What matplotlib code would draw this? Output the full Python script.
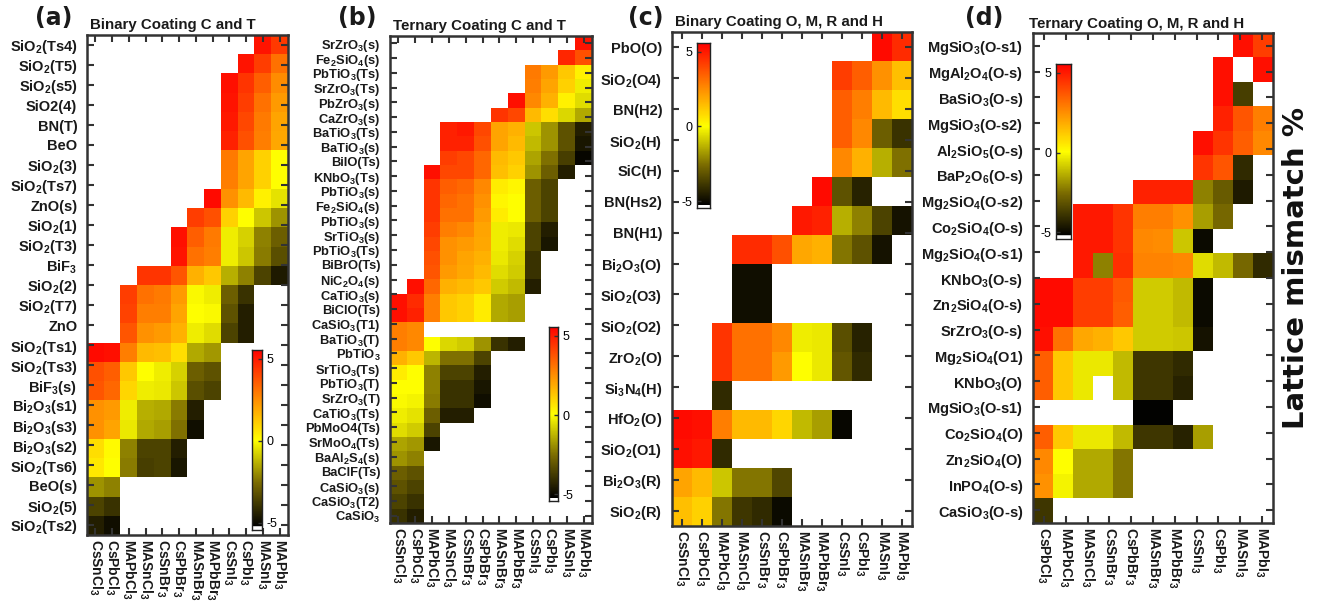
import numpy as np
import matplotlib
matplotlib.use("Agg")
import matplotlib.pyplot as plt
from matplotlib.colors import LinearSegmentedColormap, Normalize

plt.rcParams['font.family'] = ['Liberation Sans', 'DejaVu Sans']
plt.rcParams['font.weight'] = 'bold'
plt.rcParams['mathtext.fontset'] = 'custom'
plt.rcParams['mathtext.rm'] = 'Liberation Sans:bold'
plt.rcParams['mathtext.bf'] = 'Liberation Sans:bold'
plt.rcParams['mathtext.default'] = 'bf'

n = np.nan

# ---------------- data ----------------
perov = ['CsSnCl$_3$', 'CsPbCl$_3$', 'MAPbCl$_3$', 'MASnCl$_3$', 'CsSnBr$_3$', 'CsPbBr$_3$',
         'MASnBr$_3$', 'MAPbBr$_3$', 'CsSnI$_3$', 'CsPbI$_3$', 'MASnI$_3$', 'MAPbI$_3$']
perov_d = perov[1:]

labels_a = ['SiO$_2$(Ts4)', 'SiO$_2$(T5)', 'SiO$_2$(s5)', 'SiO2(4)', 'BN(T)', 'BeO', 'SiO$_2$(3)',
            'SiO$_2$(Ts7)', 'ZnO(s)', 'SiO$_2$(1)', 'SiO$_2$(T3)', 'BiF$_3$', 'SiO$_2$(2)',
            'SiO$_2$(T7)', 'ZnO', 'SiO$_2$(Ts1)', 'SiO$_2$(Ts3)', 'BiF$_3$(s)', 'Bi$_2$O$_3$(s1)',
            'Bi$_2$O$_3$(s3)', 'Bi$_2$O$_3$(s2)', 'SiO$_2$(Ts6)', 'BeO(s)', 'SiO$_2$(5)', 'SiO$_2$(Ts2)']

vals_a = [
    [n, n, n, n, n, n, n, n, n, n, 5.1, 4.3],
    [n, n, n, n, n, n, n, n, n, 5.1, 4.2, 3.1],
    [n, n, n, n, n, n, n, n, 5.2, 4.4, 3.5, 2.5],
    [n, n, n, n, n, n, n, n, 5.1, 4.2, 3.1, 2.2],
    [n, n, n, n, n, n, n, n, 5.0, 4.0, 2.9, 2.0],
    [n, n, n, n, n, n, n, n, 4.8, 3.8, 2.8, 1.9],
    [n, n, n, n, n, n, n, n, 2.9, 2.0, 1.0, 0.0],
    [n, n, n, n, n, n, n, n, 2.8, 2.0, 1.0, 0.0],
    [n, n, n, n, n, n, n, 5.3, 2.4, 1.5, 0.3, -0.5],
    [n, n, n, n, n, n, 4.2, 3.8, 1.0, 0.0, -1.0, -1.9],
    [n, n, n, n, n, 5.2, 3.5, 2.9, -0.3, -0.8, -2.2, -2.9],
    [n, n, n, n, n, 5.1, 3.1, 2.8, -0.3, -1.0, -2.3, -3.3],
    [n, n, n, 4.4, 4.4, 3.7, 1.7, 1.2, -1.4, -2.2, -3.6, -4.6],
    [n, n, 4.2, 3.1, 2.9, 2.2, -0.1, -0.3, -2.9, -4.0, n, n],
    [n, n, 4.1, 2.8, 2.8, 2.0, 0.0, -0.1, -3.2, -4.5, n, n],
    [n, n, 3.7, 2.4, 2.2, 1.7, -0.3, -0.6, -3.6, -4.5, n, n],
    [5.3, 5.2, 2.8, 1.5, 1.4, 0.7, -1.5, -1.8, n, n, n, n],
    [3.8, 3.5, 1.2, 0.0, -0.3, -0.8, -2.9, -3.2, n, n, n, n],
    [3.7, 3.3, 0.9, -0.3, -0.4, -1.0, -3.3, -3.6, n, n, n, n],
    [2.4, 2.2, -0.3, -1.4, -1.5, -2.3, -4.5, n, n, n, n, n],
    [2.4, 2.0, -0.4, -1.5, -1.7, -2.5, -4.9, n, n, n, n, n],
    [0.7, 0.1, -2.2, -3.6, -3.6, -4.5, n, n, n, n, n, n],
    [0.5, 0.0, -2.3, -3.7, -3.6, -4.7, n, n, n, n, n, n],
    [-1.9, -2.2, n, n, n, n, n, n, n, n, n, n],
    [-3.6, -4.0, n, n, n, n, n, n, n, n, n, n],
    [-4.5, -4.9, n, n, n, n, n, n, n, n, n, n],
]

labels_b = ['SrZrO$_3$(s)', 'Fe$_2$SiO$_4$(s)', 'PbTiO$_3$(Ts)', 'SrZrO$_3$(Ts)', 'PbZrO$_3$(s)',
            'CaZrO$_3$(s)', 'BaTiO$_3$(Ts)', 'BaTiO$_3$(s)', 'BiIO(Ts)', 'KNbO$_3$(Ts)',
            'PbTiO$_3$(s)', 'Fe$_2$SiO$_4$(s)', 'PbTiO$_3$(s)', 'SrTiO$_3$(s)', 'PbTiO$_3$(Ts)',
            'BiBrO(Ts)', 'NiC$_2$O$_4$(s)', 'CaTiO$_3$(s)', 'BiClO(Ts)', 'CaSiO$_3$(T1)',
            'BaTiO$_3$(T)', 'PbTiO$_3$', 'SrTiO$_3$(Ts)', 'PbTiO$_3$(T)', 'SrZrO$_3$(T)',
            'CaTiO$_3$(Ts)', 'PbMoO4(Ts)', 'SrMoO$_4$(Ts)', 'BaAl$_2$S$_4$(s)', 'BaClF(Ts)',
            'CaSiO$_3$(s)', 'CaSiO$_3$(T2)', 'CaSiO$_3$']

vals_b = [
    [n, n, n, n, n, n, n, n, n, n, n, 5.1],
    [n, n, n, n, n, n, n, n, n, n, 4.7, 3.8],
    [n, n, n, n, n, n, n, n, 2.9, 2.2, 1.2, 0.3],
    [n, n, n, n, n, n, n, n, 2.8, 2.0, 1.0, -0.3],
    [n, n, n, n, n, n, n, 5.2, 2.6, 1.7, 0.3, -0.6],
    [n, n, n, n, n, n, 4.4, 4.0, 1.5, 0.7, -0.7, -1.5],
    [n, n, n, 4.8, 5.0, 4.0, 2.0, 1.7, -1.0, -1.9, -3.2, -4.5],
    [n, n, n, 4.8, 4.8, 3.8, 2.0, 1.5, -1.2, -1.9, -3.2, -4.7],
    [n, n, n, 4.2, 4.0, 3.3, 1.5, 1.2, -1.6, -2.5, -3.7, -5.1],
    [n, n, 5.2, 4.0, 4.0, 3.3, 1.4, 1.0, -1.9, -2.9, -4.5, n],
    [n, n, 4.4, 3.5, 3.3, 2.6, 0.4, 0.2, -2.9, -3.6, n, n],
    [n, n, 4.4, 3.3, 3.1, 2.4, 0.2, 0.0, -2.9, -3.6, n, n],
    [n, n, 4.4, 3.1, 3.1, 2.2, 0.4, 0.0, -2.9, -3.6, n, n],
    [n, n, 4.2, 2.8, 2.6, 2.0, -0.3, -0.4, -3.6, -4.5, n, n],
    [n, n, 4.0, 2.4, 2.2, 1.9, -0.3, -0.6, -3.6, -4.7, n, n],
    [n, n, 3.8, 2.4, 2.0, 1.7, -0.4, -0.8, -4.0, n, n, n],
    [n, n, 3.7, 2.2, 1.9, 1.5, -0.6, -0.9, -4.0, n, n, n],
    [n, 5.2, 3.3, 1.7, 1.5, 1.2, -0.9, -1.2, -4.5, n, n, n],
    [5.2, 4.6, 2.8, 1.2, 1.0, 0.4, -1.5, -1.7, n, n, n, n],
    [5.2, 4.8, 2.8, 1.2, 1.0, 0.4, -1.5, -1.7, n, n, n, n],
    [2.8, 2.6, n, n, n, n, n, n, n, n, n, n],
    [2.8, 2.6, 0.0, -0.7, -0.9, -1.9, -4.0, -4.5, n, n, n, n],
    [1.7, 1.2, -1.3, -2.5, -2.5, -3.6, n, n, n, n, n, n],
    [0.4, 0.0, -2.2, -3.6, -3.6, -4.5, n, n, n, n, n, n],
    [0.0, 0.0, -2.2, -4.0, -4.0, -4.7, n, n, n, n, n, n],
    [-0.1, -0.2, -2.3, -4.0, -4.0, -4.9, n, n, n, n, n, n],
    [-0.3, -0.5, -2.9, -4.5, -4.5, n, n, n, n, n, n, n],
    [-0.6, -0.9, -3.6, n, n, n, n, n, n, n, n, n],
    [-1.6, -1.8, -4.7, n, n, n, n, n, n, n, n, n],
    [-1.9, -2.2, n, n, n, n, n, n, n, n, n, n],
    [-2.9, -3.2, n, n, n, n, n, n, n, n, n, n],
    [-3.2, -3.6, n, n, n, n, n, n, n, n, n, n],
    [-3.6, -4.0, n, n, n, n, n, n, n, n, n, n],
    [-4.0, -4.5, n, n, n, n, n, n, n, n, n, n],
]

labels_c = ['PbO(O)', 'SiO$_2$(O4)', 'BN(H2)', 'SiO$_2$(H)', 'SiC(H)', 'BN(Hs2)', 'BN(H1)',
            'Bi$_2$O$_3$(O)', 'SiO$_2$(O3)', 'SiO$_2$(O2)', 'ZrO$_2$(O)', 'Si$_3$N$_4$(H)',
            'HfO$_2$(O)', 'SiO$_2$(O1)', 'Bi$_2$O$_3$(R)', 'SiO$_2$(R)']

vals_c = [
    [n, n, n, n, n, n, n, n, n, n, 5.3, 4.6],
    [n, n, n, n, n, n, n, n, 4.2, 3.5, 2.4, 1.4],
    [n, n, n, n, n, n, n, n, 3.5, 2.8, 1.5, 0.7],
    [n, n, n, n, n, n, n, n, 3.5, 2.6, -2.9, -4.0],
    [n, n, n, n, n, n, n, n, 2.6, 1.7, -1.4, -2.5],
    [n, n, n, n, n, n, n, 5.3, -3.2, -4.4, n, n],
    [n, n, n, n, n, n, 5.0, 4.8, -1.4, -2.2, -3.6, -4.8],
    [n, n, n, 4.6, 4.6, 3.8, 1.9, 1.7, -2.4, -3.2, -4.8, n],
    [n, n, n, -4.9, -4.9, n, n, n, n, n, n, n],
    [n, n, n, -4.9, -4.9, n, n, n, n, n, n, n],
    [n, n, 4.4, 3.1, 3.1, 2.6, -0.3, -0.4, -3.3, -4.4, n, n],
    [n, n, 4.4, 3.1, 3.1, 2.2, 0.0, -0.4, -3.1, -4.2, n, n],
    [n, n, -4.2, n, n, n, n, n, n, n, n, n],
    [5.3, 5.2, 2.8, 1.5, 1.5, 0.9, -1.2, -1.7, -5.1, n, n, n],
    [5.2, 5.0, -4.2, n, n, n, n, n, n, n, n, n],
    [2.0, 1.5, -1.0, -2.4, -2.4, -3.5, n, n, n, n, n, n],
    [1.4, 1.0, -2.4, -3.9, -4.2, -5.0, n, n, n, n, n, n],
]

labels_d = ['MgSiO$_3$(O-s1)', 'MgAl$_2$O$_4$(O-s)', 'BaSiO$_3$(O-s)', 'MgSiO$_3$(O-s2)',
            'Al$_2$SiO$_5$(O-s)', 'BaP$_2$O$_6$(O-s)', 'Mg$_2$SiO$_4$(O-s2)', 'Co$_2$SiO$_4$(O-s)',
            'Mg$_2$SiO$_4$(O-s1)', 'KNbO$_3$(O-s)', 'Zn$_2$SiO$_4$(O-s)', 'SrZrO$_3$(O-s)',
            'Mg$_2$SiO$_4$(O1)', 'KNbO$_3$(O)', 'MgSiO$_3$(O-s1)', 'Co$_2$SiO$_4$(O)',
            'Zn$_2$SiO$_4$(O)', 'InPO$_4$(O-s)', 'CaSiO$_3$(O-s)']

vals_d = [
    [n, n, n, n, n, n, n, n, n, n, 5.2, 4.2],
    [n, n, n, n, n, n, n, n, n, 5.2, n, 5.2],
    [n, n, n, n, n, n, n, n, n, 5.2, -3.7, n],
    [n, n, n, n, n, n, n, n, n, 4.8, 3.7, 2.8],
    [n, n, n, n, n, n, n, n, 5.2, 4.4, 3.5, 2.6],
    [n, n, n, n, n, n, n, n, 4.4, 3.7, -4.2, n],
    [n, n, n, n, n, 4.8, 4.8, 4.8, -2.2, -3.0, -4.6, n],
    [n, n, 5.0, 5.0, 4.4, 2.8, 2.8, 2.4, -1.7, -2.7, n, n],
    [n, n, 5.0, 5.0, 4.4, 2.6, 2.5, -1.0, -5.0, n, n, n],
    [n, n, 5.0, -2.2, 4.5, 2.7, 2.7, 2.6, -0.6, -1.2, -2.7, -4.2],
    [5.3, 5.3, 4.2, 4.2, 3.6, -0.9, -0.9, -1.2, -5.0, n, n, n],
    [5.3, 5.3, 4.2, 4.2, 3.5, -0.9, -0.9, -1.2, -5.0, n, n, n],
    [5.2, 3.1, 1.9, 1.7, 1.2, -0.9, -0.9, -1.0, -4.8, n, n, n],
    [3.5, 1.2, -0.4, -0.4, -1.2, -3.9, -3.9, -4.2, n, n, n, n],
    [3.5, 1.2, -0.4, n, -1.2, -3.9, -3.9, -4.4, n, n, n, n],
    [n, n, n, n, n, -5.2, -5.2, n, n, n, n, n],
    [3.5, 1.2, -0.4, -0.4, -1.2, -3.9, -3.9, -4.4, -1.7, n, n, n],
    [2.6, 0.0, -1.5, -1.5, -2.4, n, n, n, n, n, n, n],
    [2.4, -0.2, -1.5, -1.5, -2.4, n, n, n, n, n, n, n],
    [-3.9, n, n, n, n, n, n, n, n, n, n, n],
]

titles = ['Binary Coating C and T', 'Ternary Coating C and T',
          'Binary Coating O, M, R and H', 'Ternary Coating O, M, R and H']
tags = ['(a)', '(b)', '(c)', '(d)']

# ---------------- colours ----------------
vmin, vmax = -5.45, 5.55
def pos(v):
    return (v - vmin) / (vmax - vmin)
cmap = LinearSegmentedColormap.from_list('mismatch', [
    (0.0, (1, 1, 1)), (pos(-5.28), (1, 1, 1)), (pos(-5.27), (0, 0, 0)),
    (pos(-2.6), (0.48, 0.42, 0)), (pos(0), (1, 1, 0)),
    (pos(2.8), (1, 0.5, 0)), (1.0, (1, 0, 0))], N=512)
cmap.set_bad((1, 1, 1, 0))
norm = Normalize(vmin, vmax)

W, H = 1325, 608
fig = plt.figure(figsize=(W / 100, H / 100), dpi=100)

def px_axes(x0, y0, x1, y1):
    return fig.add_axes([x0 / W, 1 - y1 / H, (x1 - x0) / W, (y1 - y0) / H])

dark = '#333333'
panels = [
    # box, values, ylabels, ylabel size, xlabels, title pos, tag pos, colorbar (x0, x1, y5, y-5, side)
    ((87, 35, 288, 535), vals_a, labels_a, 10.5, perov, (90, 29.5), (54, 18), (251.7, 262.3, 359, 522.7, 'right')),
    ((390, 36, 592, 523), vals_b, labels_b, 9.3, perov, (392.7, 30.3), (357, 18), (549, 558.3, 336, 494.3, 'right')),
    ((672, 32, 912, 526), vals_c, labels_c, 10.5, perov, (675, 26), (646, 18), (696.7, 710, 51.7, 201, 'left')),
    ((1033, 33, 1273, 523), vals_d, labels_d, 10.5, perov_d, (1029.3, 28.3), (984, 18), (1055.7, 1070.7, 72.7, 232.3, 'left')),
]

for i, (box, vals, ylabs, ysize, xlabs, tpos, gpos, cb) in enumerate(panels):
    grid = np.array(vals, dtype=float)
    nr, nc = grid.shape
    ax = px_axes(*box)
    ax.imshow(np.ma.masked_invalid(grid), cmap=cmap, norm=norm, extent=(0, nc, nr, 0),
              aspect='auto', interpolation='nearest')
    ax.set_xlim(0, nc)
    ax.set_ylim(nr, 0)
    ax.set_xticks((np.arange(len(xlabs)) + 0.5) * nc / len(xlabs))
    ax.set_xticklabels(xlabs, rotation=270, fontsize=10)
    ax.set_yticks((np.arange(len(ylabs)) + 0.5) * nr / len(ylabs))
    ax.set_yticklabels(ylabs, fontsize=ysize)
    ax.tick_params(direction='in', length=5, width=1.5, color=dark, top=True, right=True,
                   labelcolor='#1a1a1a')
    ax.tick_params(axis='y', pad=7)
    ax.tick_params(axis='x', pad=3)
    for sp in ax.spines.values():
        sp.set_color(dark)
        sp.set_linewidth(1.8)

    fig.text(tpos[0] / W, 1 - tpos[1] / H, titles[i], fontsize=10.8, fontweight='bold',
             ha='left', va='baseline', color='#1a1a1a')
    fig.text(gpos[0] / W, 1 - gpos[1] / H, tags[i], fontsize=17, fontweight='bold',
             ha='center', va='center', family='DejaVu Sans', color='#1a1a1a')

    # inset colour bar
    cx0, cx1, y5, ym5, side = cb
    s = (ym5 - y5) / 10.0
    top = y5 - (vmax - 5) * s
    bot = ym5 + (-5 - vmin) * s
    cax = px_axes(cx0, top, cx1, bot)
    grad = np.linspace(vmin, vmax, 400)[:, None]
    cax.imshow(grad, cmap=cmap, norm=norm, extent=(0, 1, vmin, vmax), origin='lower',
               aspect='auto', interpolation='nearest')
    cax.set_xlim(0, 1)
    cax.set_ylim(vmin, vmax)
    cax.set_xticks([])
    cax.set_yticks([-5, 0, 5])
    cax.set_yticklabels(['-5', '0', '5'])
    if side == 'right':
        cax.yaxis.tick_right()
    cax.tick_params(axis='y', direction='in', length=3, width=1, color=dark,
                    labelsize=9, pad=3)
    for lab in cax.get_yticklabels():
        lab.set_fontweight('normal')
    for sp in cax.spines.values():
        sp.set_color('#222222')
        sp.set_linewidth(1.0)

fig.text(1296 / W, 1 - 268 / H, 'Lattice mismatch %', rotation=90, fontsize=21,
         fontweight='bold', family='DejaVu Sans', ha='center', va='center', color='#111111')

fig.savefig('out.png', dpi=100, facecolor='white')
